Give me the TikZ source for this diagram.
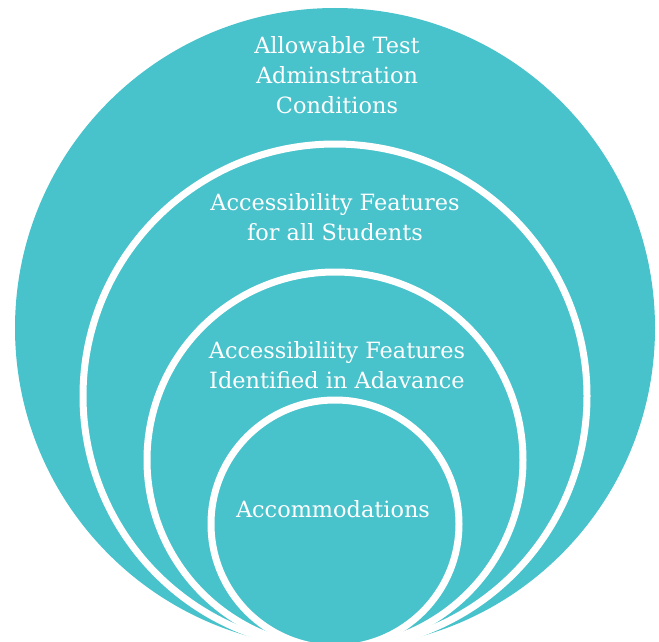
\documentclass[tikz,border=0pt]{standalone}
\usepackage{fontspec}
\setmainfont{DejaVu Serif}
\definecolor{teal1}{HTML}{48C2CB}
\begin{document}
\begin{tikzpicture}[x=1pt,y=-1pt,
  disc/.style={fill=teal1},
  ringdisc/.style={fill=teal1,draw=white,line width=7pt},
  lbl/.style={text=white,align=center,font=\fontsize{22.4}{30}\selectfont,inner sep=0pt}]
\useasboundingbox (0,0) rectangle (659,642);
\clip (0,0) rectangle (659,642);
\fill[disc] (335,328) circle (320);
\path[ringdisc] (335,396) circle (252);
\path[ringdisc] (335,460) circle (188);
\path[ringdisc] (335,524) circle (124);
\node[lbl] (t1) at (337,75) {Allowable Test\\Adminstration\\Conditions};
\node[lbl] (t2) at (335,217) {Accessibility Features\\for all Students};
\node[lbl] (t3) at (337,365) {Accessibiliity Features\\Identified in Adavance};
\node[lbl] (t4) at (333,509) {Accommodations};
\end{tikzpicture}
\end{document}
